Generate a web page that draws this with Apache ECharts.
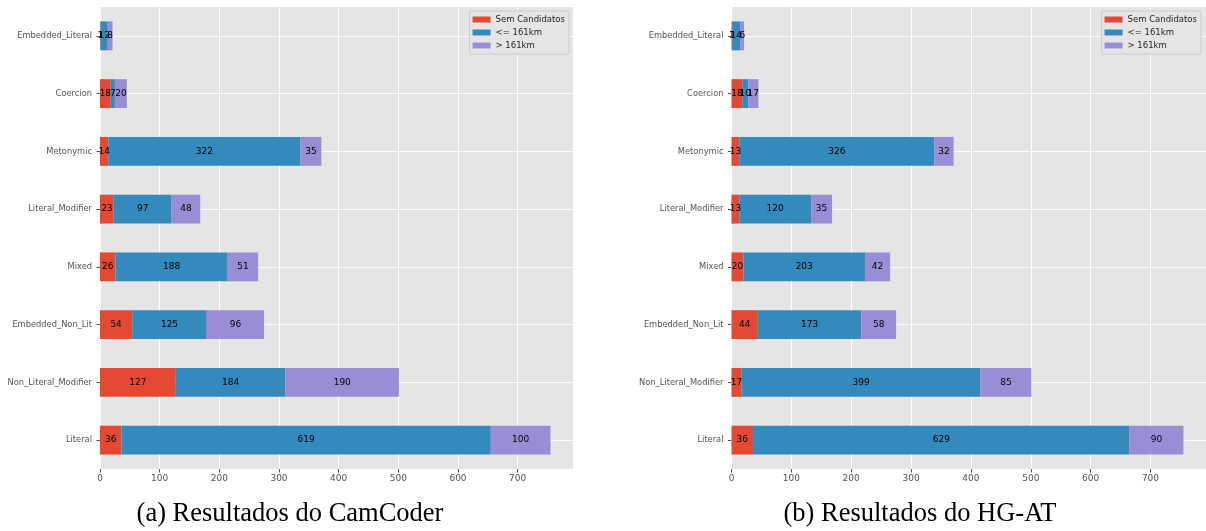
<!DOCTYPE html>
<html>
<head>
<meta charset="utf-8">
<script src="https://cdn.jsdelivr.net/npm/echarts@6/dist/echarts.min.js"></script>
<style>
  html, body { margin: 0; padding: 0; background: #fff; }
  #chart { width: 1206px; height: 531px; }
</style>
</head>
<body>
<div id="chart"></div>
<script>
// categories, bottom to top
var categories = ['Literal', 'Non_Literal_Modifier', 'Embedded_Non_Lit', 'Mixed',
    'Literal_Modifier', 'Metonymic', 'Coercion', 'Embedded_Literal'];
var seriesNames = ['Sem Candidatos', '<= 161km', '> 161km'];
var xTicks = [0, 100, 200, 300, 400, 500, 600, 700];

// (a) CamCoder
var camSem = [36, 127, 54, 26, 23, 14, 18, 1];
var camNear = [619, 184, 125, 188, 97, 322, 7, 12];
var camFar = [100, 190, 96, 51, 48, 35, 20, 8];

// (b) HG-AT
var hgSem = [36, 17, 44, 20, 13, 13, 18, 1];
var hgNear = [629, 399, 173, 203, 120, 326, 10, 14];
var hgFar = [90, 85, 58, 42, 35, 32, 17, 6];

var colors = ['#E24A33', '#348ABD', '#988ED5'];
var xMax = 792.75;

var myChart = echarts.init(document.getElementById('chart'));

function barSeries(name, data, idx, stack) {
    return {
        name: name,
        type: 'bar',
        stack: stack,
        xAxisIndex: idx,
        yAxisIndex: idx,
        barWidth: '50%',
        z: 2,
        itemStyle: { color: colors[seriesNames.indexOf(name)] },
        label: {
            show: true,
            position: 'inside',
            color: '#000',
            fontSize: 9,
            fontFamily: 'DejaVu Sans'
        },
        data: data
    };
}

// horizontal white grid lines at category centres
function gridLines(idx) {
    return {
        type: 'line',
        xAxisIndex: idx,
        yAxisIndex: idx,
        data: [],
        silent: true,
        z: 1,
        markLine: {
            silent: true,
            z: 1,
            symbol: 'none',
            label: { show: false },
            lineStyle: { color: '#fff', width: 1, type: 'solid' },
            data: categories.map(function (c) { return { yAxis: c }; })
        }
    };
}

function xAxis(idx) {
    return {
        type: 'value',
        gridIndex: idx,
        min: 0,
        max: xMax,
        interval: 100,
        axisLine: { show: false },
        axisTick: { show: true, length: 3.5, lineStyle: { color: '#555' } },
        axisLabel: {
            color: '#555', fontSize: 9, fontFamily: 'DejaVu Sans', margin: 5,
            showMaxLabel: false,
            formatter: function (v) { return xTicks.indexOf(v) >= 0 ? String(v) : ''; }
        },
        splitLine: { show: true, lineStyle: { color: '#fff', width: 1 } }
    };
}

function yAxis(idx) {
    return {
        type: 'category',
        gridIndex: idx,
        data: categories,
        axisLine: { show: false },
        axisTick: { show: true, alignWithLabel: true, length: 3.5, lineStyle: { color: '#555' } },
        axisLabel: { color: '#555', fontSize: 8.3, fontFamily: 'DejaVu Sans', margin: 8 },
        splitLine: { show: false }
    };
}

function legend(right) {
    return {
        orient: 'vertical',
        right: right,
        top: 11,
        data: seriesNames,
        icon: 'rect',
        itemWidth: 18,
        itemHeight: 6,
        itemGap: 2,
        itemStyle: { borderWidth: 0 },
        padding: [3, 4, 3, 3],
        backgroundColor: '#e5e5e5',
        borderColor: '#cccccc',
        borderWidth: 1,
        borderRadius: 2,
        textStyle: { color: '#222', fontSize: 8.5, fontFamily: 'DejaVu Sans', lineHeight: 11 }
    };
}

var option = {
    animation: false,
    backgroundColor: '#fff',
    grid: [
        { left: 100, top: 7, width: 473, height: 462, show: true, backgroundColor: '#e5e5e5', borderWidth: 0 },
        { left: 731.5, top: 7, width: 474.5, height: 462, show: true, backgroundColor: '#e5e5e5', borderWidth: 0 }
    ],
    legend: [legend(637), legend(5)],
    xAxis: [xAxis(0), xAxis(1)],
    yAxis: [yAxis(0), yAxis(1)],
    series: [
        gridLines(0),
        gridLines(1),
        barSeries(seriesNames[0], camSem, 0, 'cam'),
        barSeries(seriesNames[1], camNear, 0, 'cam'),
        barSeries(seriesNames[2], camFar, 0, 'cam'),
        barSeries(seriesNames[0], hgSem, 1, 'hg'),
        barSeries(seriesNames[1], hgNear, 1, 'hg'),
        barSeries(seriesNames[2], hgFar, 1, 'hg')
    ],
    graphic: [
        {
            type: 'text', x: 290, y: 514,
            style: { text: '(a) Resultados do CamCoder', fill: '#000', font: '26.5px "Liberation Serif"',
                textAlign: 'center', textVerticalAlign: 'middle' }
        },
        {
            type: 'text', x: 920, y: 514,
            style: { text: '(b) Resultados do HG-AT', fill: '#000', font: '26.5px "Liberation Serif"',
                textAlign: 'center', textVerticalAlign: 'middle' }
        }
    ]
};

myChart.setOption(option);
</script>
</body>
</html>
